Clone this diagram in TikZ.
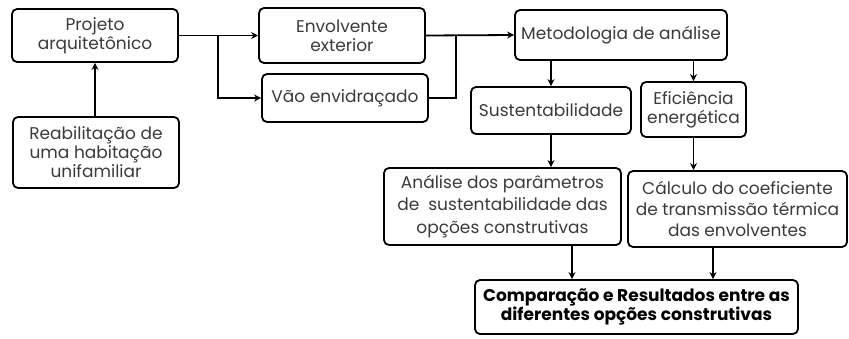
\documentclass[tikz,border=0pt]{standalone}
\usepackage{fontspec}
\setmainfont{Poppins}
\usetikzlibrary{arrows.meta}
\definecolor{txt}{HTML}{3A3A3A}
\tikzset{
  box/.style={draw=black, line width=1.8pt, rounded corners=5pt, align=center, inner sep=0pt, text=txt, font=\fontsize{17}{19}\selectfont},
  arr/.style={-{Stealth[length=7pt,width=7pt]}, line width=1.8pt},
  ln/.style={line width=1.8pt}
}
\begin{document}
\begin{tikzpicture}[x=1pt,y=-1pt]
\useasboundingbox (0,0) rectangle (849,338);
\node[box, minimum width=166pt, minimum height=53pt] (proj) at (95,35.5) {Projeto\\arquitetônico};
\node[box, minimum width=166pt, minimum height=71pt] (reab) at (96,152.5) {Reabilitação de\\uma habitação\\unifamiliar};
\node[box, minimum width=166pt, minimum height=55pt] (env) at (342,35.5) {Envolvente\\exterior};
\node[box, minimum width=166pt, minimum height=48pt] (vao) at (345,98) {Vão envidraçado};
\node[box, minimum width=212pt, minimum height=50pt] (met) at (621,35) {Metodologia de análise};
\node[box, minimum width=160pt, minimum height=47pt] (sus) at (551,110.5) {Sustentabilidade};
\node[box, minimum width=105pt, minimum height=55pt] (efi) at (693.5,109.5) {Eficiência\\energética};
\node[box, minimum width=237pt, minimum height=77pt, font=\fontsize{17}{22.5}\selectfont] (ana) at (502.5,206.5) {Análise dos parâmetros\\de \ sustentabilidade das\\opções construtivas};
\node[box, minimum width=219pt, minimum height=76pt, font=\fontsize{17}{21}\selectfont] (cal) at (737.5,209) {Cálculo do coeficiente\\de transmissão térmica\\das envolventes};
\node[box, minimum width=323pt, minimum height=54pt, text=black, font=\fontsize{17}{18.5}\selectfont\bfseries] (comp) at (636.5,307) {Comparação e Resultados entre as\\diferentes opções construtivas};
\coordinate (b1) at (218,35.5);
\coordinate (b2) at (456,35.5);
\coordinate (c1) at (572,0);
\coordinate (c2) at (713,0);
\draw[arr] (reab.north -| proj.south) -- (proj.south);
\draw[ln] (proj.east) -- (b1);
\draw[arr] (b1) -- (env.west);
\draw[arr] (b1) |- (vao.west);
\draw[arr] (env.east) -- (met.west);
\draw[ln] (vao.east) -| (b2);
\draw[arr] (sus.north |- met.south) -- (sus.north);
\draw[arr] (efi.north |- met.south) -- (efi.north);
\draw[arr] (sus.south) -- (sus.south |- ana.north);
\draw[arr] (efi.south) -- (efi.south |- cal.north);
\draw[arr] (c1 |- ana.south) -- (c1 |- comp.north);
\draw[arr] (c2 |- cal.south) -- (c2 |- comp.north);
\end{tikzpicture}
\end{document}
